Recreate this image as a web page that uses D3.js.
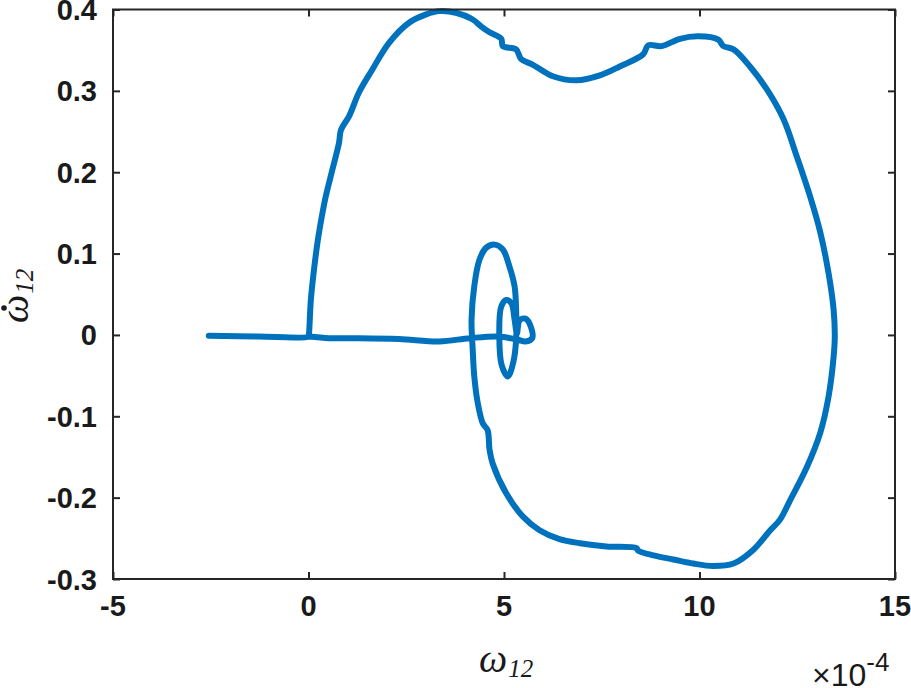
<!DOCTYPE html>
<html>
<head>
<meta charset="utf-8">
<script src="https://cdn.jsdelivr.net/npm/d3@7"></script>
<style>
  html, body { margin: 0; padding: 0; background: #fff; }
  svg { display: block; }
</style>
</head>
<body>
<svg id="chart" width="911" height="688"></svg>
<script>
// ---- Data (omega12 in units of 1e-4, omegaDot12) ----
const xTicks = [-5, 0, 5, 10, 15];
const yTicks = [-0.3, -0.2, -0.1, 0, 0.1, 0.2, 0.3, 0.4];
const xTickLabels = ["-5", "0", "5", "10", "15"];
const yTickLabels = ["-0.3", "-0.2", "-0.1", "0", "0.1", "0.2", "0.3", "0.4"];

const trajectory = [
  [-2.55, -0.001], [-1.27, -0.002], [0.0, -0.002], [0.01, 0.0],
  [0.06, 0.043], [0.14, 0.080], [0.24, 0.117], [0.35, 0.148],
  [0.44, 0.170], [0.61, 0.203], [0.78, 0.236], [0.83, 0.252],
  [1.04, 0.269], [1.29, 0.298], [1.63, 0.326], [2.06, 0.359],
  [2.58, 0.384], [3.01, 0.394], [3.35, 0.398], [3.77, 0.396],
  [4.19, 0.388], [4.42, 0.379], [4.63, 0.372], [4.93, 0.364],
  [4.97, 0.355], [5.31, 0.351], [5.44, 0.339], [5.74, 0.332],
  [6.25, 0.318], [6.85, 0.313], [7.45, 0.319], [7.96, 0.330],
  [8.56, 0.345], [8.69, 0.356], [9.03, 0.355], [9.50, 0.364],
  [9.97, 0.367], [10.48, 0.363], [10.61, 0.355], [10.87, 0.351],
  [11.29, 0.330], [11.72, 0.302], [12.15, 0.265], [12.49, 0.219],
  [12.83, 0.170], [13.09, 0.126], [13.30, 0.076], [13.43, 0.031],
  [13.46, -0.002], [13.43, -0.027], [13.30, -0.076], [13.09, -0.120],
  [12.75, -0.162], [12.32, -0.203], [12.06, -0.227], [11.81, -0.240],
  [11.38, -0.264], [10.87, -0.281], [10.35, -0.284], [9.84, -0.281],
  [9.33, -0.276], [8.82, -0.271], [8.43, -0.265], [8.39, -0.262],
  [7.62, -0.260], [6.94, -0.256], [6.42, -0.251], [5.91, -0.240],
  [5.48, -0.223], [5.06, -0.195], [4.71, -0.158], [4.63, -0.141],
  [4.58, -0.117], [4.46, -0.109], [4.33, -0.084], [4.24, -0.051],
  [4.20, -0.018], [4.17, 0.019], [4.24, 0.060], [4.37, 0.092],
  [4.54, 0.107], [4.76, 0.111], [4.97, 0.105], [5.14, 0.084],
  [5.27, 0.060], [5.31, 0.031], [5.31, -0.006], [5.24, -0.033],
  [5.10, -0.051], [4.94, -0.037], [4.88, -0.002], [4.93, 0.035],
  [5.06, 0.043], [5.19, 0.039], [5.27, 0.019], [5.33, 0.002],
  [5.40, 0.018], [5.55, 0.020], [5.70, 0.008], [5.72, -0.004],
  [5.55, -0.008], [5.35, -0.006], [4.88, -0.002], [4.12, -0.004],
  [3.35, -0.008], [2.32, -0.005], [1.29, -0.004], [0.53, -0.004],
  [0.01, -0.002]
];

// ---- Layout ----
const svg = d3.select("#chart");
const plot = { left: 113, right: 895, top: 9.5, bottom: 579 };

const x = d3.scaleLinear().domain([-5, 15]).range([plot.left, plot.right]);
const y = d3.scaleLinear().domain([-0.3, 0.4]).range([plot.bottom, plot.top]);

const axisColor = "#262626";
const tickLen = 7;

// Curve
const line = d3.line()
  .x(d => x(d[0]))
  .y(d => y(d[1]))
  .curve(d3.curveCatmullRom.alpha(0.5));

svg.append("path")
  .datum(trajectory)
  .attr("d", line)
  .attr("fill", "none")
  .attr("stroke", "#0072BD")
  .attr("stroke-width", 6)
  .attr("stroke-linejoin", "round")
  .attr("stroke-linecap", "round");

// Axes via d3 axis generators (inward ticks on all four sides)
function styleAxis(g) {
  g.select(".domain").remove();
  g.selectAll(".tick line").attr("stroke", axisColor).attr("stroke-width", 2);
  g.selectAll(".tick text").remove();
}

svg.append("g")
  .attr("transform", `translate(0,${plot.bottom})`)
  .call(d3.axisBottom(x).tickValues(xTicks).tickSizeInner(-tickLen).tickSizeOuter(0))
  .call(styleAxis);
svg.append("g")
  .attr("transform", `translate(0,${plot.top})`)
  .call(d3.axisTop(x).tickValues(xTicks).tickSizeInner(-tickLen).tickSizeOuter(0))
  .call(styleAxis);
svg.append("g")
  .attr("transform", `translate(${plot.left},0)`)
  .call(d3.axisLeft(y).tickValues(yTicks).tickSizeInner(-tickLen).tickSizeOuter(0))
  .call(styleAxis);
svg.append("g")
  .attr("transform", `translate(${plot.right},0)`)
  .call(d3.axisRight(y).tickValues(yTicks).tickSizeInner(-tickLen).tickSizeOuter(0))
  .call(styleAxis);

// Box
svg.append("rect")
  .attr("x", plot.left).attr("y", plot.top)
  .attr("width", plot.right - plot.left).attr("height", plot.bottom - plot.top)
  .attr("fill", "none").attr("stroke", axisColor).attr("stroke-width", 2);

// Tick labels
const tickFont = "'Liberation Sans', Arial, sans-serif";
svg.append("g").selectAll("text")
  .data(xTicks)
  .join("text")
  .attr("x", d => x(d))
  .attr("y", 616)
  .attr("text-anchor", "middle")
  .attr("font-family", tickFont)
  .attr("font-weight", "bold")
  .attr("font-size", 29)
  .attr("fill", "#1a1a1a")
  .text((d, i) => xTickLabels[i]);

svg.append("g").selectAll("text")
  .data(yTicks)
  .join("text")
  .attr("x", 97)
  .attr("y", d => y(d) + 10.5)
  .attr("text-anchor", "end")
  .attr("font-family", tickFont)
  .attr("font-weight", "bold")
  .attr("font-size", 29)
  .attr("fill", "#1a1a1a")
  .text((d, i) => yTickLabels[i]);

// X axis label: omega_12
const labelFont = "'Liberation Serif', 'Times New Roman', serif";
const xl = svg.append("text")
  .attr("x", 479).attr("y", 672)
  .attr("font-family", labelFont)
  .attr("font-style", "italic")
  .attr("font-size", 40)
  .attr("fill", "#1a1a1a");
xl.append("tspan").text("ω");
xl.append("tspan").attr("font-size", 25).attr("dy", 5).attr("dx", 1).text("12");

// Y axis label: omega-dot_12 (rotated)
const yl = svg.append("g").attr("transform", "translate(28,323) rotate(-90)");
const ylt = yl.append("text")
  .attr("x", 0).attr("y", 0)
  .attr("font-family", labelFont)
  .attr("font-style", "italic")
  .attr("font-size", 40)
  .attr("fill", "#1a1a1a");
ylt.append("tspan").text("ω");
ylt.append("tspan").attr("font-size", 25).attr("dy", 5).attr("dx", 1).text("12");
yl.append("circle").attr("cx", 15).attr("cy", -24).attr("r", 2.8).attr("fill", "#1a1a1a");

// Exponent label x10^-4
const ext = svg.append("text")
  .attr("x", 812).attr("y", 686)
  .attr("font-family", tickFont)
  .attr("font-size", 32)
  .attr("fill", "#1a1a1a");
ext.append("tspan").text("×10");
ext.append("tspan").attr("font-size", 26).attr("dy", -15).text("-4");
</script>
</body>
</html>
